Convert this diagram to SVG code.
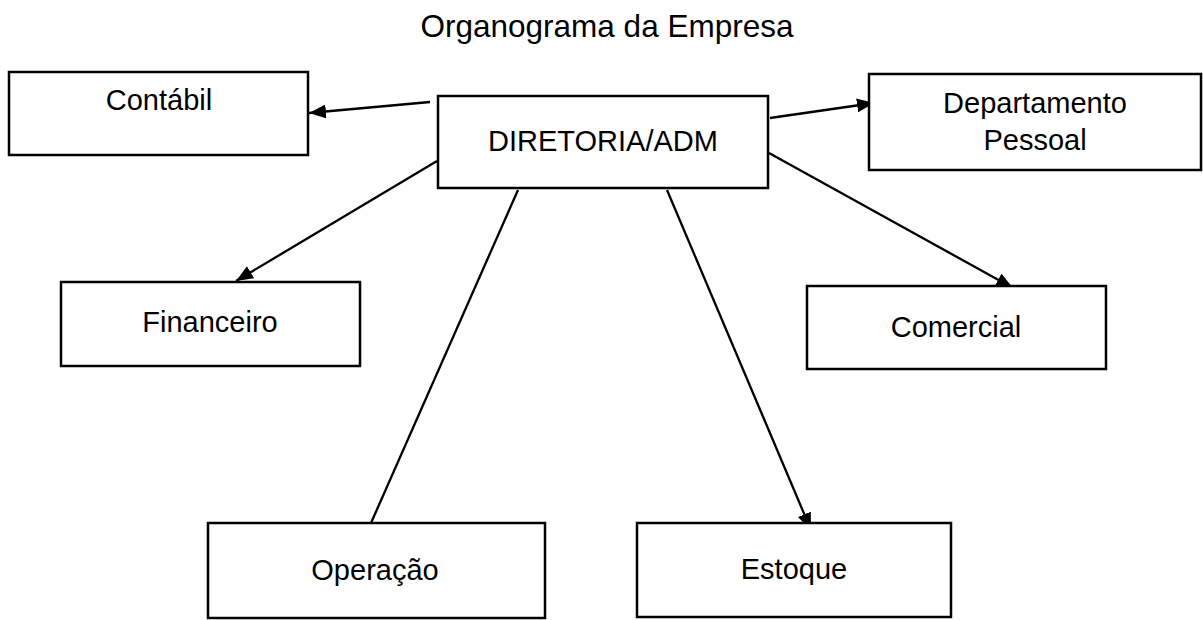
<svg xmlns="http://www.w3.org/2000/svg" width="1203" height="620" viewBox="0 0 1203 620">
<style>
.box{fill:#fff;stroke:#000;stroke-width:2.5}
.lbl{font-family:"Liberation Sans",Arial,sans-serif;font-size:29px;fill:#000;text-anchor:middle}
.ttl{font-family:"Liberation Sans",Arial,sans-serif;font-size:31.5px;fill:#000;text-anchor:middle}
.edge{stroke:#000;stroke-width:2.3;fill:none}
</style>
<defs>
<marker id="ah" markerUnits="userSpaceOnUse" markerWidth="18" markerHeight="15" refX="17" refY="7" orient="auto">
<path d="M0,0 L17,7 L0,14 z" fill="#000"/>
</marker>
</defs>
<rect width="1203" height="620" fill="#fff"/>
<text class="ttl" x="607" y="37">Organograma da Empresa</text>
<g id="connectors">
<line class="edge" x1="430" y1="102" x2="309" y2="113" marker-end="url(#ah)"/>
<line class="edge" x1="770" y1="118" x2="874" y2="103" marker-end="url(#ah)"/>
<line class="edge" x1="437" y1="161" x2="236" y2="281" marker-end="url(#ah)"/>
<line class="edge" x1="769" y1="153" x2="1013" y2="288" marker-end="url(#ah)"/>
<line class="edge" x1="518" y1="190" x2="371" y2="523"/>
<line class="edge" x1="667" y1="190" x2="811" y2="530" marker-end="url(#ah)"/>
</g>
<g id="contabil"><rect class="box" x="9" y="72" width="299" height="83"/><text class="lbl" x="159" y="110">Contábil</text></g>
<g id="diretoria"><rect class="box" x="438" y="96" width="330" height="92"/><text class="lbl" x="603" y="151">DIRETORIA/ADM</text></g>
<g id="departamento"><rect class="box" x="869" y="74" width="332" height="96"/><text class="lbl" x="1035" y="113">Departamento</text><text class="lbl" x="1035" y="150">Pessoal</text></g>
<g id="financeiro"><rect class="box" x="61" y="282" width="299" height="84"/><text class="lbl" x="210" y="332">Financeiro</text></g>
<g id="comercial"><rect class="box" x="807" y="286" width="299" height="83"/><text class="lbl" x="956" y="337">Comercial</text></g>
<g id="operacao"><rect class="box" x="208" y="523" width="337" height="95"/><text class="lbl" x="375" y="580">Operação</text></g>
<g id="estoque"><rect class="box" x="637" y="523" width="314" height="94"/><text class="lbl" x="794" y="579">Estoque</text></g>
</svg>
